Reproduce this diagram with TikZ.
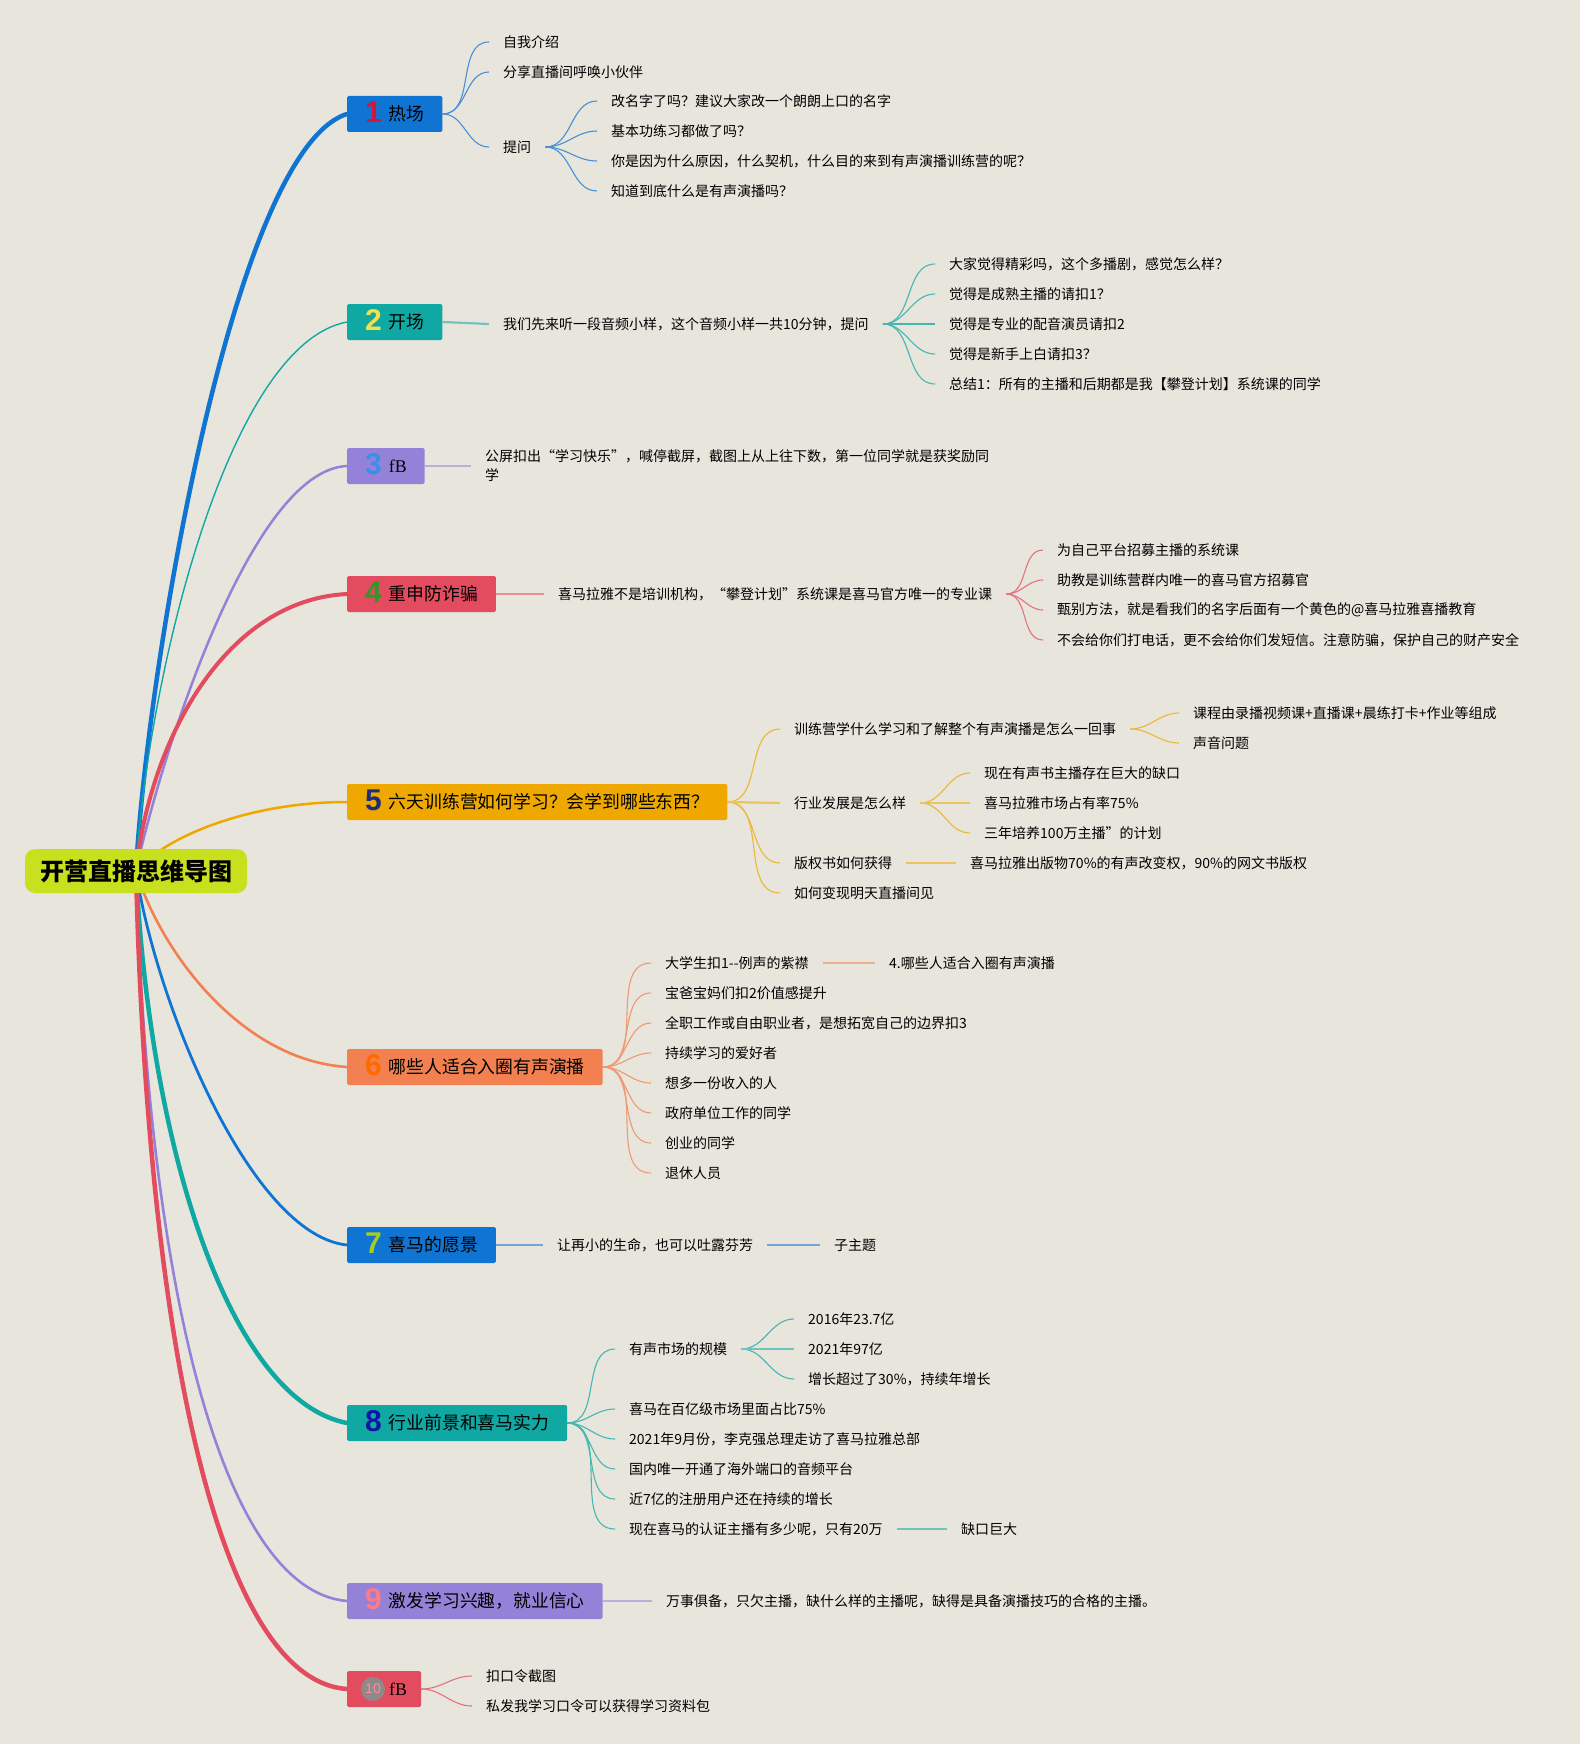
\documentclass[tikz,border=0pt]{standalone}
\usepackage{fontspec}
\setmainfont{Noto Sans CJK SC}
\newfontfamily\numfont{Liberation Sans}
\newfontfamily\serfont{Liberation Serif}
\usepackage{tikz}
\usetikzlibrary{positioning}

\definecolor{paper}{HTML}{E8E5DD}
\definecolor{rootc}{HTML}{C8E01E}
\definecolor{blu}{HTML}{1074D3}
\definecolor{tea}{HTML}{0FA8A3}
\definecolor{pur}{HTML}{9482D8}
\definecolor{rd}{HTML}{E24C5E}
\definecolor{ylw}{HTML}{EEA800}
\definecolor{org}{HTML}{F28050}
\definecolor{n1}{HTML}{D0183C}
\definecolor{n2}{HTML}{F5E04A}
\definecolor{n3}{HTML}{3A8FE8}
\definecolor{n4}{HTML}{2B9A2B}
\definecolor{n5}{HTML}{1E2D78}
\definecolor{n6}{HTML}{FF6A00}
\definecolor{n7}{HTML}{A6CE1A}
\definecolor{n8}{HTML}{1515A5}
\definecolor{n9}{HTML}{FF7A88}
\definecolor{dot}{HTML}{8E8A8A}

\pgfdeclarelayer{paper}
\pgfdeclarelayer{lines}
\pgfsetlayers{paper,lines,main}

\tikzset{
  topic/.style={fill=#1, anchor=west, minimum height=36pt, inner xsep=18pt, inner ysep=0pt, rounded corners=1.5pt, font=\fontsize{17.8}{20}\selectfont},
  leaf/.style={anchor=west, inner xsep=14pt, inner ysep=1pt, font=\fontsize{14}{19}\selectfont},
  limb/.style={draw=#1, line cap=round},
  twig/.style={draw=#1!75!paper, line width=1.1pt},
  stem/.style={draw=#1!55!paper, line width=2.2pt},
}
\newcommand\tnum[2]{\smash{\raisebox{-2pt}{\numfont\bfseries\fontsize{30}{30}\selectfont\color{#1}#2}}\hspace{7pt}}

\begin{document}
\begin{tikzpicture}[x=1pt,y=-1pt]
\begin{pgfonlayer}{paper}
\fill[paper] (0,0) rectangle (1580,1744);
\end{pgfonlayer}
\useasboundingbox (0,0) rectangle (1580,1744);

% root and main topics
\node[fill=rootc, rounded corners=10pt, minimum width=222pt, minimum height=44pt, inner sep=0pt, font=\bfseries\fontsize{24}{24}\selectfont] (root) at (136,871) {开营直播思维导图};
\node[topic=blu] (t1) at (347,114) {\tnum{n1}{1}热场};
\node[topic=tea] (t2) at (347,322) {\tnum{n2}{2}开场};
\node[topic=pur] (t3) at (347,466) {\tnum{n3}{3}{\serfont fB}};
\node[topic=rd] (t4) at (347,594) {\tnum{n4}{4}重申防诈骗};
\node[topic=ylw] (t5) at (347,802) {\tnum{n5}{5}六天训练营如何学习？会学到哪些东西？};
\node[topic=org] (t6) at (347,1067) {\tnum{n6}{6}哪些人适合入圈有声演播};
\node[topic=blu] (t7) at (347,1245) {\tnum{n7}{7}喜马的愿景};
\node[topic=tea] (t8) at (347,1423) {\tnum{n8}{8}行业前景和喜马实力};
\node[topic=pur] (t9) at (347,1601) {\tnum{n9}{9}激发学习兴趣，就业信心};
\node[topic=rd, inner xsep=14pt] (t10) at (347,1689) {\hspace{28pt}{\serfont fB}};
\node[circle, fill=dot, minimum size=24pt, inner sep=0pt, text=n9!85!white, font=\numfont\fontsize{14}{14}\selectfont] (c10) at ([xshift=26pt]t10.west) {10};

% 1
\node[leaf] (a1) at (489,42) {自我介绍};
\node[leaf] (a2) at (489,72) {分享直播间呼唤小伙伴};
\node[leaf] (a3) at (489,147) {提问};
\node[leaf] (a31) at (597,101) {改名字了吗？建议大家改一个朗朗上口的名字};
\node[leaf] (a32) at (597,131) {基本功练习都做了吗？};
\node[leaf] (a33) at (597,161) {你是因为什么原因，什么契机，什么目的来到有声演播训练营的呢？};
\node[leaf] (a34) at (597,191) {知道到底什么是有声演播吗？};
% 2
\node[leaf] (b1) at (489,324) {我们先来听一段音频小样，这个音频小样一共10分钟，提问};
\node[leaf] (b11) at (935,264) {大家觉得精彩吗，这个多播剧，感觉怎么样？};
\node[leaf] (b12) at (935,294) {觉得是成熟主播的请扣1？};
\node[leaf] (b13) at (935,324) {觉得是专业的配音演员请扣2};
\node[leaf] (b14) at (935,354) {觉得是新手上白请扣3？};
\node[leaf] (b15) at (935,384) {总结1：所有的主播和后期都是我【攀登计划】系统课的同学};
% 3
\node[leaf, align=left] (c1) at (471,466) {公屏扣出“学习快乐”，喊停截屏，截图上从上往下数，第一位同学就是获奖励同\\学};
% 4
\node[leaf] (d1) at (544,594) {喜马拉雅不是培训机构，“攀登计划”系统课是喜马官方唯一的专业课};
\node[leaf] (d11) at (1043,550) {为自己平台招募主播的系统课};
\node[leaf] (d12) at (1043,580) {助教是训练营群内唯一的喜马官方招募官};
\node[leaf] (d13) at (1043,610) {甄别方法，就是看我们的名字后面有一个黄色的@喜马拉雅喜播教育};
\node[leaf] (d14) at (1043,640) {不会给你们打电话，更不会给你们发短信。注意防骗，保护自己的财产安全};
% 5
\node[leaf] (e1) at (780,729) {训练营学什么学习和了解整个有声演播是怎么一回事};
\node[leaf] (e11) at (1179,713) {课程由录播视频课+直播课+晨练打卡+作业等组成};
\node[leaf] (e12) at (1179,743) {声音问题};
\node[leaf] (e2) at (780,803) {行业发展是怎么样};
\node[leaf] (e21) at (970,773) {现在有声书主播存在巨大的缺口};
\node[leaf] (e22) at (970,803) {喜马拉雅市场占有率75\%};
\node[leaf] (e23) at (970,833) {三年培养100万主播”的计划};
\node[leaf] (e3) at (780,863) {版权书如何获得};
\node[leaf] (e31) at (956,863) {喜马拉雅出版物70\%的有声改变权，90\%的网文书版权};
\node[leaf] (e4) at (780,893) {如何变现明天直播间见};
% 6
\foreach \txt [count=\i] in {{大学生扣1-{}-例声的紫襟}, {宝爸宝妈们扣2价值感提升}, {全职工作或自由职业者，是想拓宽自己的边界扣3}, {持续学习的爱好者}, {想多一份收入的人}, {政府单位工作的同学}, {创业的同学}, {退休人员}}
  \node[leaf] (f\i) at (651,933+30*\i) {\txt};
\node[leaf] (f11) at (875,963) {4.哪些人适合入圈有声演播};
% 7
\node[leaf] (g1) at (543,1245) {让再小的生命，也可以吐露芬芳};
\node[leaf] (g11) at (820,1245) {子主题};
% 8
\node[leaf] (h1) at (615,1349) {有声市场的规模};
\node[leaf] (h11) at (794,1319) {2016年23.7亿};
\node[leaf] (h12) at (794,1349) {2021年97亿};
\node[leaf] (h13) at (794,1379) {增长超过了30\%，持续年增长};
\node[leaf] (h2) at (615,1409) {喜马在百亿级市场里面占比75\%};
\node[leaf] (h3) at (615,1439) {2021年9月份，李克强总理走访了喜马拉雅总部};
\node[leaf] (h4) at (615,1469) {国内唯一开通了海外端口的音频平台};
\node[leaf] (h5) at (615,1499) {近7亿的注册用户还在持续的增长};
\node[leaf] (h6) at (615,1529) {现在喜马的认证主播有多少呢，只有20万};
\node[leaf] (h61) at (947,1529) {缺口巨大};
% 9
\node[leaf] (i1) at (652,1601) {万事俱备，只欠主播，缺什么样的主播呢，缺得是具备演播技巧的合格的主播。};
% 10
\node[leaf] (j1) at (472,1676) {扣口令截图};
\node[leaf] (j2) at (472,1706) {私发我学习口令可以获得学习资料包};

\begin{pgfonlayer}{lines}
% main limbs
\foreach \t/\c/\w/\p/\q in {t1/blu/4.5/{146,680}/{232,150}, t2/tea/1.4/{146,690}/{225,345}, t3/pur/2.5/{160,760}/{250,470}, t4/rd/4/{150,740}/{225,600}, t5/ylw/2.5/{166,836}/{250,802}, t6/org/2.6/{160,950}/{240,1060}, t7/blu/2.8/{155,1000}/{250,1235}, t8/tea/4.5/{150,1150}/{230,1400}, t9/pur/2.6/{148,1280}/{220,1590}, t10/rd/4.5/{148,1350}/{220,1680}}
  \draw[limb=\c, line width=\w pt] (root.center) .. controls (\p) and (\q) .. (\t.west);

\foreach \n in {a1,a2,a3} \draw[twig=blu] (t1.east) to[out=0,in=180] (\n.west);
\foreach \n in {a31,a32,a33,a34} \draw[twig=blu] (a3.east) to[out=0,in=180] (\n.west);
\draw[stem=tea] (t2.east) -- (b1.west);
\foreach \n in {b11,b12,b13,b14,b15} \draw[twig=tea] (b1.east) to[out=0,in=180] (\n.west);
\draw[stem=pur] (t3.east) -- (t3.east -| c1.west);
\draw[stem=rd] (t4.east) -- (d1.west);
\foreach \n in {d11,d12,d13,d14} \draw[twig=rd] (d1.east) to[out=0,in=180] (\n.west);
\foreach \n in {e1,e3,e4} \draw[twig=ylw] (t5.east) to[out=0,in=180] (\n.west);
\draw[stem=ylw] (t5.east) -- (e2.west);
\foreach \n in {e11,e12} \draw[twig=ylw] (e1.east) to[out=0,in=180] (\n.west);
\foreach \n in {e21,e23} \draw[twig=ylw] (e2.east) to[out=0,in=180] (\n.west);
\draw[stem=ylw] (e2.east) -- (e22.west);
\draw[stem=ylw] (e3.east) -- (e31.west);
\foreach \i in {1,...,8} \draw[twig=org] (t6.east) to[out=0,in=180] (f\i.west);
\draw[stem=org] (f1.east) -- (f11.west);
\draw[stem=blu] (t7.east) -- (g1.west);
\draw[stem=blu] (g1.east) -- (g11.west);
\foreach \n in {h1,h2,h3,h4,h5,h6} \draw[twig=tea] (t8.east) to[out=0,in=180] (\n.west);
\foreach \n in {h11,h13} \draw[twig=tea] (h1.east) to[out=0,in=180] (\n.west);
\draw[stem=tea] (h1.east) -- (h12.west);
\draw[stem=tea] (h6.east) -- (h61.west);
\draw[stem=pur] (t9.east) -- (i1.west);
\foreach \n in {j1,j2} \draw[twig=rd] (t10.east) to[out=0,in=180] (\n.west);
\end{pgfonlayer}
\end{tikzpicture}
\end{document}
